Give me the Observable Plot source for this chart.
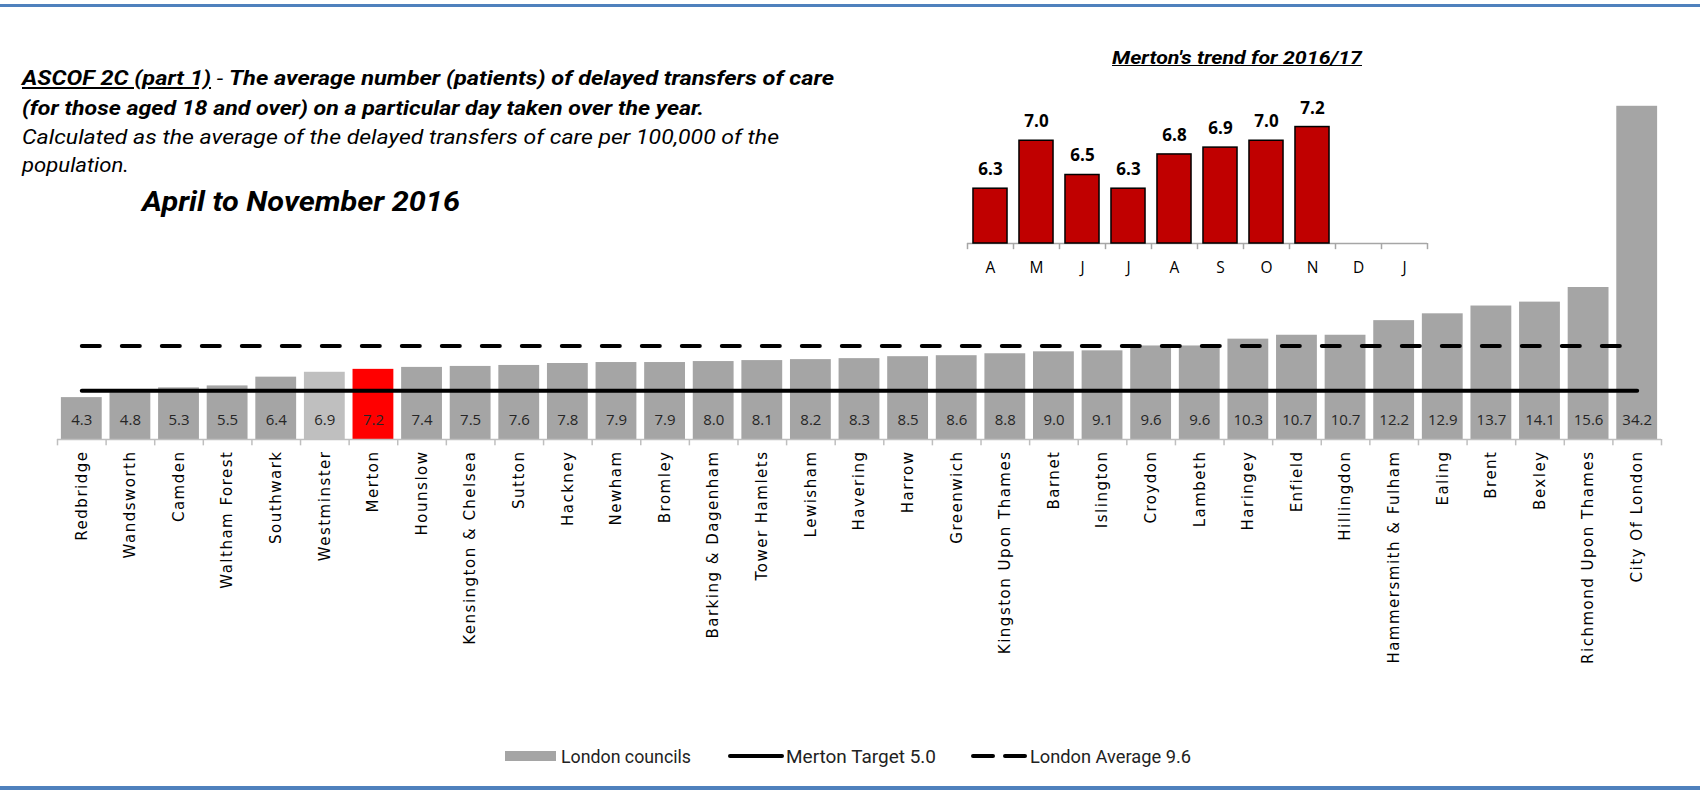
<!DOCTYPE html>
<html><head><meta charset="utf-8">
<script src="https://cdn.jsdelivr.net/npm/d3@7"></script>
<script src="https://cdn.jsdelivr.net/npm/@observablehq/plot@0.6"></script>
<style>
html,body{margin:0;padding:0;background:#fff;width:1700px;height:791px;overflow:hidden;position:relative;font-family:"Liberation Sans Narrow","Roboto",sans-serif;color:#000;}
.abs{position:absolute;white-space:nowrap;transform-origin:0 50%;}
.border{position:absolute;left:0;width:1700px;height:3px;background:#4F81BD;}
#main{position:absolute;left:0;top:0;}
#inset{position:absolute;left:940px;top:80px;}
#main [aria-label="x-axis tick label"] text{letter-spacing:1.5px;}
</style></head><body>
<div class="border" style="top:4px"></div>
<div class="border" style="top:786px;height:4px"></div>
<div id="main"></div>
<div id="inset"></div>
<div id="texts"></div>
<script>
// ---- data ----
const councils = ["Redbridge","Wandsworth","Camden","Waltham Forest","Southwark","Westminster","Merton","Hounslow","Kensington & Chelsea","Sutton","Hackney","Newham","Bromley","Barking & Dagenham","Tower Hamlets","Lewisham","Havering","Harrow","Greenwich","Kingston Upon Thames","Barnet","Islington","Croydon","Lambeth","Haringey","Enfield","Hillingdon","Hammersmith & Fulham","Ealing","Brent","Bexley","Richmond Upon Thames","City Of London"];
const councilValues = [4.3,4.8,5.3,5.5,6.4,6.9,7.2,7.4,7.5,7.6,7.8,7.9,7.9,8.0,8.1,8.2,8.3,8.5,8.6,8.8,9.0,9.1,9.6,9.6,10.3,10.7,10.7,12.2,12.9,13.7,14.1,15.6,34.2];
const mertonTarget = 5.0;
const londonAverage = 9.6;
const months = ["Apr","May","Jun","Jul","Aug","Sep","Oct","Nov","Dec","Jan"];
const monthLabels = ["A","M","J","J","A","S","O","N","D","J"];
const trendValues = [6.3,7.0,6.5,6.3,6.8,6.9,7.0,7.2,null,null];
const legendLabels = ["London councils","Merton Target 5.0","London Average 9.6"];

// ---- main chart ----
const rows = councils.map((name,i)=>({name, value: councilValues[i]}));
const mL = 57, mR = 39;
const step = (1700 - mL - mR) / councils.length;
const lastC = councils[councils.length-1];
const fillFor = d => d.name === "Merton" ? "#FF0000" : d.name === "Westminster" ? "#BFBFBF" : "#A5A5A5";
const main = Plot.plot({
  width: 1700, height: 700,
  marginLeft: mL, marginRight: mR, marginTop: 98, marginBottom: 261,
  x: {domain: councils, paddingInner: 0.16, paddingOuter: 0.08, round: false, axis: null},
  y: {domain: [0, 35], axis: null},
  style: {background: "transparent", overflow: "visible"},
  marks: [
    Plot.barY(rows, {x: "name", y: "value", fill: fillFor}),
    Plot.ruleY([0], {stroke: "#BFBFBF", strokeWidth: 1.5}),
    Plot.ruleX(councils, {x: d => d, dx: -step/2, y1: 0, y2: -0.65, stroke: "#BFBFBF", strokeWidth: 1.5}),
    Plot.ruleX([lastC], {x: d => d, dx: step/2, y1: 0, y2: -0.65, stroke: "#BFBFBF", strokeWidth: 1.5}),
    Plot.text(rows, {x: "name", y: 0, dy: -19, text: d => d.value.toFixed(1), fontSize: 15, fill: "#262626", fontFamily: "Open Sans"}),
    Plot.line(councils, {x: d => d, y: () => mertonTarget, stroke: "#000", strokeWidth: 4, strokeLinecap: "round"}),
    Plot.line(councils, {x: d => d, y: () => londonAverage, stroke: "#000", strokeWidth: 4, strokeLinecap: "round", strokeDasharray: "18,22"}),
    Plot.axisX({tickSize: 0, tickPadding: 11, tickRotate: -90, fontSize: 15, fontFamily: "DejaVu Sans", fill: "#000", label: null})
  ]
});
document.getElementById("main").appendChild(main);

// ---- inset chart ----
const trendRows = months.map((m,i)=>({month: m, value: trendValues[i]}));
const iL = 27, iR = 33, base = 5.5;
const istep = (520 - iL - iR) / months.length;
const inset = Plot.plot({
  width: 520, height: 210,
  marginLeft: iL, marginRight: iR, marginTop: 26, marginBottom: 47,
  x: {domain: months, paddingInner: 0.26, paddingOuter: 0.13, round: false, axis: null},
  y: {domain: [base, 7.5], axis: null},
  style: {background: "transparent", overflow: "visible"},
  marks: [
    Plot.ruleY([base], {stroke: "#A6A6A6", strokeWidth: 1.5}),
    Plot.ruleX(months, {x: d => d, dx: -istep/2, y1: base, y2: base - 0.09, stroke: "#A6A6A6", strokeWidth: 1.5}),
    Plot.ruleX([months[months.length-1]], {x: d => d, dx: istep/2, y1: base, y2: base - 0.09, stroke: "#A6A6A6", strokeWidth: 1.5}),
    Plot.barY(trendRows.filter(d => d.value != null), {x: "month", y1: base, y2: "value", fill: "#C00000", stroke: "#000", strokeWidth: 1.5}),
    Plot.text(trendRows.filter(d => d.value != null), {x: "month", y: "value", dy: -19, text: d => d.value.toFixed(1), fontSize: 17, fontWeight: "bold", fill: "#000", fontFamily: "Open Sans"}),
    Plot.axisX({tickSize: 0, tickPadding: 18, tickFormat: d => monthLabels[months.indexOf(d)], fontSize: 15.5, fontFamily: "Open Sans", fill: "#000", label: null})
  ]
});
document.getElementById("inset").appendChild(inset);

// ---- texts ----
const T = document.getElementById("texts");
function addText(html, left, cy, size, target, style) {
  const d = document.createElement("div");
  d.className = "abs";
  d.style.left = left + "px";
  d.style.fontSize = size + "px";
  d.style.lineHeight = "1";
  d.style.top = (cy - size/2) + "px";
  if (style) Object.assign(d.style, style);
  d.innerHTML = html;
  T.appendChild(d);
  if (target) {
    const w = d.getBoundingClientRect().width;
    if (w > 0) d.style.transform = `scaleX(${target / w})`;
  }
  return d;
}
addText('<u><b>ASCOF 2C (part 1)</b></u> - <b>The average number (patients) of delayed transfers of care</b>', 22, 78, 21, 812, {fontStyle: "italic"});
addText('<b>(for those aged 18 and over) on a particular day taken over the year.</b>', 22, 108, 21, 682, {fontStyle: "italic"});
addText('Calculated as the average of the delayed transfers of care per 100,000 of the', 22, 137, 21, 757, {fontStyle: "italic"});
addText('population.', 22, 165, 21, 107, {fontStyle: "italic"});
addText('<b>April to November 2016</b>', 142, 202, 28, 318, {fontStyle: "italic"});
addText('<u><b>Merton\'s trend for 2016/17</b></u>', 1112, 58, 18, 250, {fontStyle: "italic"});

// ---- legend ----
const lg = document.createElementNS("http://www.w3.org/2000/svg", "svg");
lg.setAttribute("width", 1700); lg.setAttribute("height", 791);
lg.style.position = "absolute"; lg.style.left = "0"; lg.style.top = "0";
lg.innerHTML = `
  <rect x="505" y="751" width="51" height="10" fill="#A5A5A5"/>
  <line x1="730" y1="756" x2="782" y2="756" stroke="#000" stroke-width="4" stroke-linecap="round"/>
  <line x1="973" y1="756" x2="1025" y2="756" stroke="#000" stroke-width="4" stroke-linecap="round" stroke-dasharray="20,12"/>`;
document.body.appendChild(lg);
addText(legendLabels[0], 561, 757, 18, 130, {color: "#222"});
addText(legendLabels[1], 786, 757, 18, 150, {color: "#222"});
addText(legendLabels[2], 1030, 757, 18, 161, {color: "#222"});
</script>
</body></html>
